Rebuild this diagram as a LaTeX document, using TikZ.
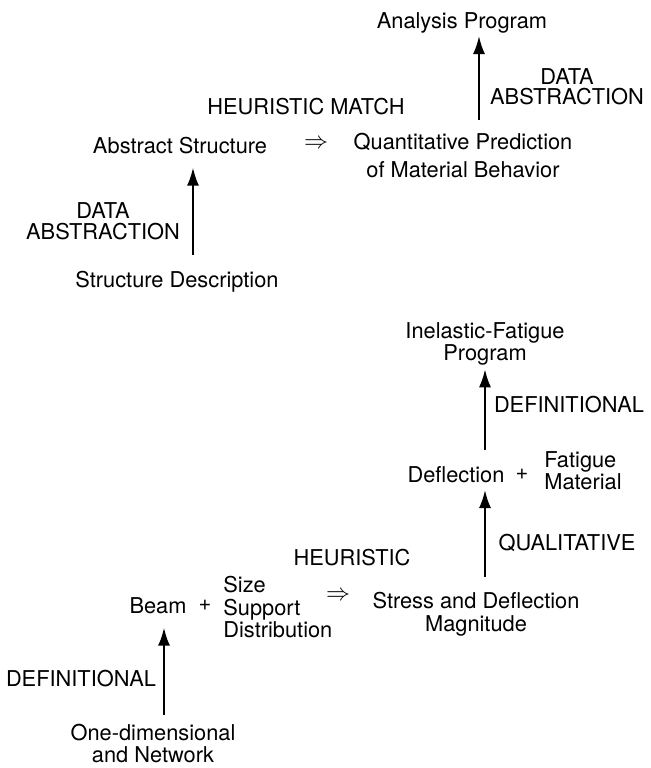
\documentclass[tikz,border=0pt]{standalone}
\usepackage{fontspec}
\setmainfont{TeX Gyre Heros}
\usetikzlibrary{arrows.meta}
\begin{document}
\begin{tikzpicture}[x=0.5pt,y=-0.5pt,
  lbl/.style={inner sep=0pt, font=\fontsize{10.9}{11}\selectfont},
  one/.style={lbl, text height=7.8pt, text depth=2.3pt},
  impl/.style={inner sep=0pt, font=\fontsize{11.5}{12}\selectfont},
  arr/.style={line width=1.05pt, -{Latex[length=9pt,width=6pt]}},
]
\fill[white] (0,0) rectangle (651,768);
\useasboundingbox (0,0) rectangle (651,768);

% upper diagram
\node[one, anchor=north] (ap) at (462,12) {Analysis Program};
\node[lbl, anchor=north, align=center, font=\fontsize{10.9}{10}\selectfont] (da1) at (567,68) {DATA\\ABSTRACTION};
\node[one, anchor=north] (hm) at (306,98) {HEURISTIC MATCH};
\node[one, anchor=north] (as) at (180,137) {Abstract Structure};
\node[impl] (imp1) at (316,144) {$\Rightarrow$};
\node[lbl, anchor=north, align=center, font=\fontsize{10.9}{14}\selectfont] (qp) at (463,133) {Quantitative Prediction\\of Material Behavior};
\node[lbl, anchor=north, align=center, font=\fontsize{10.9}{10.5}\selectfont] (da2) at (103,202) {DATA\\ABSTRACTION};
\node[one, anchor=north] (sd) at (177,271) {Structure Description};

% lower diagram
\node[lbl, anchor=north, align=center, font=\fontsize{10.9}{10}\selectfont] (ifp) at (485,322) {Inelastic-Fatigue\\Program};
\node[one, anchor=north] (def1) at (569,396) {DEFINITIONAL};
\node[one, anchor=north] (dfl) at (456,466) {Deflection};
\node[lbl] (plus1) at (522,474) {+};
\node[lbl, anchor=north west, align=left, font=\fontsize{10.9}{10}\selectfont] (fm) at (544,451) {Fatigue\\Material};
\node[one, anchor=north] (ql) at (567,534) {QUALITATIVE};
\node[one, anchor=north] (he) at (352,549) {HEURISTIC};
\node[one, anchor=north] (bm) at (158,597) {Beam};
\node[lbl] (plus2) at (205,605) {+};
\node[lbl, anchor=north west, align=left, font=\fontsize{10.9}{11.25}\selectfont] (ssd) at (223,576) {Size\\Support\\Distribution};
\node[impl] (imp2) at (338,596) {$\Rightarrow$};
\node[lbl, anchor=north, align=center, font=\fontsize{10.9}{11.5}\selectfont] (sdm) at (476,592) {Stress and Deflection\\Magnitude};
\node[one, anchor=north] (def2) at (81,670) {DEFINITIONAL};
\node[lbl, anchor=north, align=center, font=\fontsize{10.9}{11}\selectfont] (odn) at (153,724) {One-dimensional\\and Network};

% arrow columns
\coordinate (xa) at (479,0);
\coordinate (xb) at (193,0);
\coordinate (xc) at (485,0);
\coordinate (xd) at (164,0);

\draw[arr, shorten <=6.5pt, shorten >=1.5pt] (qp.north -| xa) -- (ap.south -| xa);
\draw[arr, shorten <=8pt, shorten >=4.8pt] (sd.north -| xb) -- (as.south -| xb);
\draw[arr, shorten <=8pt, shorten >=1.6pt] (dfl.north -| xc) -- (ifp.south -| xc);
\draw[arr, shorten <=7.5pt, shorten >=1.5pt] (sdm.north -| xc) -- (dfl.south -| xc);
\draw[arr, shorten <=4.5pt, shorten >=4.8pt] (odn.north -| xd) -- (bm.south -| xd);
\end{tikzpicture}
\end{document}
